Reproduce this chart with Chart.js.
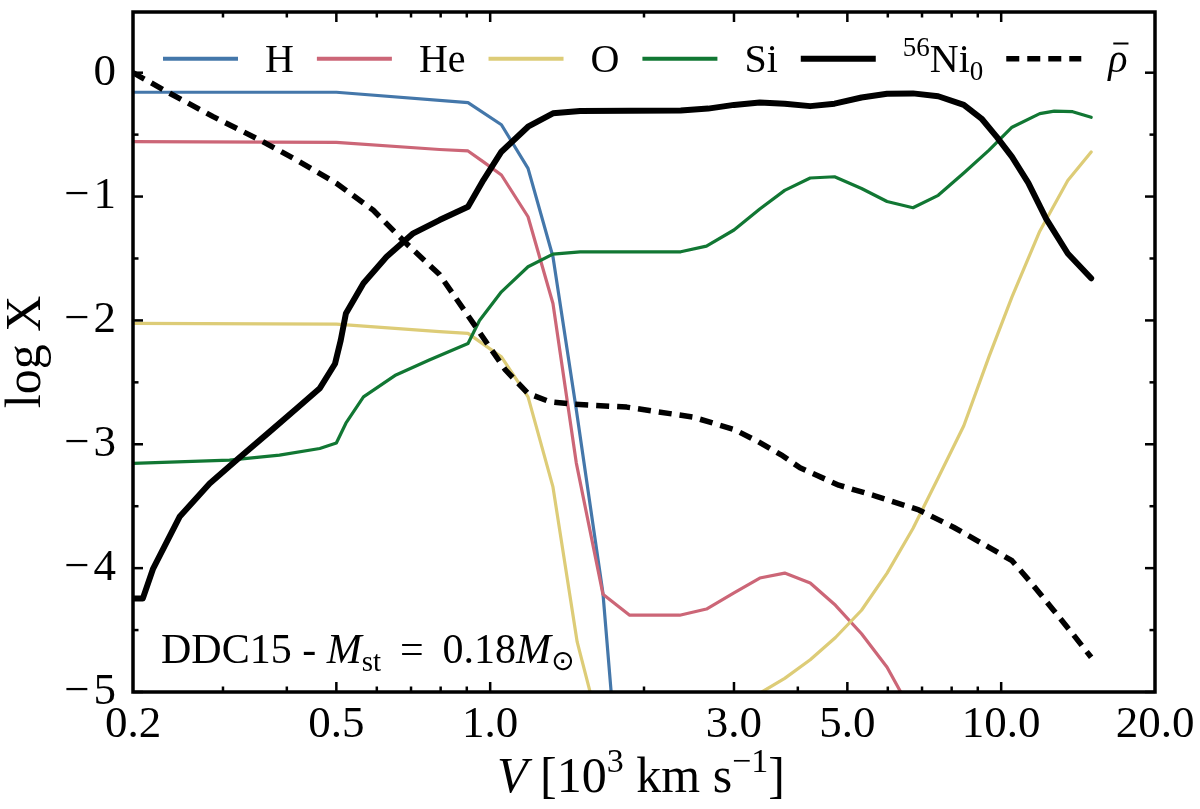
<!DOCTYPE html>
<html>
<head>
<meta charset="utf-8">
<script src="https://cdn.jsdelivr.net/npm/chart.js@4.4.0/dist/chart.umd.min.js"></script>
<style>
  html, body { margin: 0; padding: 0; background: #fff; }
  #wrap { width: 1200px; height: 809px; position: relative; }
</style>
</head>
<body>
<div id="wrap"><canvas id="chart"></canvas></div>
<script>
// ====== DATA (velocity in 1e3 km/s, log mass fraction) ======
const vH = [0.2, 0.5, 0.905, 1.052, 1.186, 1.327, 1.474, 1.662, 1.875];
const logH = [-0.158, -0.158, -0.242, -0.42, -0.772, -1.486, -2.72, -4.2, -6.8];

const vHe = [0.2, 0.5, 0.796, 0.905, 0.97, 1.052, 1.186, 1.327, 1.474, 1.662, 1.875, 2.349, 2.65, 3.0, 3.37, 3.77, 4.23, 4.74, 5.33, 5.98, 6.72];
const logHe = [-0.557, -0.563, -0.62, -0.632, -0.72, -0.826, -1.163, -1.863, -3.15, -4.21, -4.38, -4.38, -4.33, -4.2, -4.08, -4.04, -4.12, -4.3, -4.53, -4.8, -5.18];

const vO = [0.2, 0.5, 0.796, 0.905, 1.052, 1.186, 1.327, 1.48, 1.662, 3.0, 3.37, 3.77, 4.23, 4.74, 5.33, 5.98, 6.72, 7.53, 8.45, 9.47, 10.5, 11.9, 13.5, 15.0];
const logO = [-2.024, -2.03, -2.09, -2.105, -2.294, -2.617, -3.344, -4.596, -5.4, -5.13, -5.01, -4.89, -4.74, -4.56, -4.34, -4.04, -3.68, -3.27, -2.85, -2.29, -1.81, -1.28, -0.87, -0.64];

const vSi = [0.2, 0.309, 0.387, 0.464, 0.5, 0.522, 0.565, 0.654, 0.76, 0.905, 0.953, 1.052, 1.186, 1.327, 1.5, 2.36, 2.65, 3.0, 3.37, 3.77, 4.23, 4.72, 5.33, 5.98, 6.72, 7.53, 8.45, 9.47, 10.5, 11.9, 12.7, 13.8, 15.0];
const logSi = [-3.155, -3.128, -3.088, -3.034, -2.99, -2.83, -2.617, -2.44, -2.32, -2.186, -2.0, -1.769, -1.567, -1.465, -1.446, -1.446, -1.4, -1.27, -1.1, -0.95, -0.85, -0.84, -0.935, -1.04, -1.09, -0.99, -0.81, -0.625, -0.44, -0.33, -0.31, -0.315, -0.36];

const vNi = [0.2, 0.209, 0.219, 0.2467, 0.2825, 0.3186, 0.37, 0.418, 0.4636, 0.497, 0.51, 0.522, 0.565, 0.627, 0.707, 0.796, 0.905, 0.97, 1.052, 1.186, 1.327, 1.5, 2.36, 2.67, 3.0, 3.37, 3.77, 4.23, 4.72, 5.33, 5.98, 6.72, 7.53, 8.45, 9.15, 9.81, 10.5, 11.3, 12.25, 13.5, 15.0];
const logNi = [-4.246, -4.246, -4.003, -3.586, -3.317, -3.128, -2.9, -2.711, -2.55, -2.35, -2.16, -1.944, -1.7, -1.486, -1.297, -1.19, -1.082, -0.867, -0.638, -0.436, -0.328, -0.309, -0.306, -0.29, -0.26, -0.24, -0.25, -0.27, -0.25, -0.2, -0.17, -0.167, -0.19, -0.26, -0.37, -0.52, -0.68, -0.89, -1.18, -1.46, -1.66];

const vRho = [0.2, 0.236, 0.287, 0.349, 0.418, 0.5, 0.59, 0.685, 0.796, 0.927, 1.071, 1.186, 1.31, 1.45, 1.85, 2.49, 3.0, 3.35, 3.71, 4.04, 4.81, 5.7, 6.9, 8.07, 9.45, 10.5, 11.4, 12.66, 13.8, 15.0];
const logRho = [0.0, -0.166, -0.355, -0.53, -0.705, -0.893, -1.109, -1.378, -1.63, -2.024, -2.4, -2.59, -2.657, -2.676, -2.7, -2.78, -2.88, -2.98, -3.085, -3.19, -3.33, -3.42, -3.53, -3.67, -3.83, -3.94, -4.11, -4.34, -4.53, -4.72];

// ====== TICKS ======
const xLabelTicks = [0.2, 0.5, 1, 3, 5, 10, 20];
const xMajor = [0.5, 1, 3, 5, 10];
const xMinor = [0.3, 0.4, 0.6, 0.7, 0.8, 0.9, 2, 4, 6, 7, 8, 9];
const yLabelTicks = [-5, -4, -3, -2, -1, 0];
const yMinor = [-4.5, -3.5, -2.5, -1.5, -0.5];

const SERIF = '"Liberation Serif", "DejaVu Serif", serif';
const f = (size, style) => (style ? style + ' ' : '') + size + 'px ' + SERIF;

const pts = (xs, ys) => xs.map((x, i) => ({ x, y: ys[i] }));

function line(ctx, x1, y1, x2, y2) {
  ctx.beginPath(); ctx.moveTo(x1, y1); ctx.lineTo(x2, y2); ctx.stroke();
}

// draw a run of text pieces: [text, font, dy]
function drawRich(ctx, parts, x, y, align) {
  let w = 0;
  parts.forEach(p => { ctx.font = p[1]; w += ctx.measureText(p[0]).width; });
  let cx = align === 'center' ? x - w / 2 : x;
  parts.forEach(p => {
    ctx.font = p[1];
    ctx.fillText(p[0], cx, y + (p[2] || 0));
    cx += ctx.measureText(p[0]).width;
  });
  return w;
}

const legendText = [
  [['H', f(40)]],
  [['He', f(40)]],
  [['O', f(40)]],
  [['Si', f(40)]],
  [['56', f(27), -16], ['Ni', f(40)], ['0', f(27), 8]],
  [['\u03C1', f(40, 'italic')]]
];

const decor = {
  id: 'decor',
  afterDraw(chart) {
    const ctx = chart.ctx, a = chart.chartArea;
    const xs = chart.scales.x, ys = chart.scales.y;
    ctx.save();
    ctx.strokeStyle = '#000';
    ctx.fillStyle = '#000';
    ctx.lineCap = 'butt';

    // inward ticks on all four sides
    ctx.lineWidth = 2.5;
    xMajor.forEach(v => { const p = xs.getPixelForValue(v); line(ctx, p, a.bottom, p, a.bottom - 10); line(ctx, p, a.top, p, a.top + 10); });
    xMinor.forEach(v => { const p = xs.getPixelForValue(v); line(ctx, p, a.bottom, p, a.bottom - 5.5); line(ctx, p, a.top, p, a.top + 5.5); });
    yLabelTicks.forEach(v => { const p = ys.getPixelForValue(v); line(ctx, a.left, p, a.left + 10, p); line(ctx, a.right, p, a.right - 10, p); });
    yMinor.forEach(v => { const p = ys.getPixelForValue(v); line(ctx, a.left, p, a.left + 5.5, p); line(ctx, a.right, p, a.right - 5.5, p); });

    // frame
    ctx.lineWidth = 3.5;
    ctx.strokeRect(a.left, a.top, a.right - a.left, a.bottom - a.top);

    // legend inside the top of the plot
    ctx.textBaseline = 'alphabetic';
    ctx.textAlign = 'left';
    let lx = a.left + 30;
    const ly = 58.7, ty = 71.5;
    chart.data.datasets.forEach((ds, i) => {
      ctx.strokeStyle = ds.borderColor;
      ctx.lineWidth = ds.borderWidth === 3.2 ? 4 : ds.borderWidth;
      ctx.setLineDash(ds.borderDash || []);
      line(ctx, lx, ly, lx + 75, ly);
      ctx.setLineDash([]);
      const tx = lx + 75 + 27;
      const w = drawRich(ctx, legendText[i], tx, ty);
      if (i === 5) {
        ctx.strokeStyle = '#000'; ctx.lineWidth = 2;
        line(ctx, tx + 5, ty - 28, tx + w + 1, ty - 28);
      }
      lx = tx + w + 23;
    });

    // model annotation
    drawRich(ctx, [
      ['DDC15 - ', f(42)], ['M', f(42, 'italic')], ['st', f(29), 8],
      ['\u2009 = \u20090.18', f(42)], ['M', f(42, 'italic')], ['\u2299', '28px "DejaVu Sans", sans-serif', 7]
    ], a.left + 28, 662.5);

    // x-axis title
    drawRich(ctx, [
      ['V', f(50, 'italic')], [' [10', f(50)], ['3', f(34), -20], [' km s', f(50)],
      ['\u22121', f(34), -20], [']', f(50)]
    ], (a.left + a.right) / 2 - 3, 792, 'center');

    // y-axis title
    ctx.translate(40, (a.top + a.bottom) / 2);
    ctx.rotate(-Math.PI / 2);
    drawRich(ctx, [['log X', f(50)]], 0, 0, 'center');
    ctx.restore();
  }
};

new Chart(document.getElementById('chart'), {
  type: 'line',
  data: {
    datasets: [
      { label: 'H', data: pts(vH, logH), borderColor: '#4477AA', borderWidth: 3.2, order: 6 },
      { label: 'He', data: pts(vHe, logHe), borderColor: '#CC6677', borderWidth: 3.2, order: 5 },
      { label: 'O', data: pts(vO, logO), borderColor: '#DDCC77', borderWidth: 3.2, order: 4 },
      { label: 'Si', data: pts(vSi, logSi), borderColor: '#117733', borderWidth: 3.2, order: 3 },
      { label: '56Ni0', data: pts(vNi, logNi), borderColor: '#000000', borderWidth: 6, order: 2 },
      { label: 'rho', data: pts(vRho, logRho), borderColor: '#000000', borderWidth: 5.5, borderDash: [13, 8], borderCapStyle: 'butt', order: 1 }
    ]
  },
  options: {
    responsive: true,
    maintainAspectRatio: false,
    animation: false,
    layout: { padding: { left: 0, right: 45, top: 12, bottom: 0 } },
    elements: {
      point: { radius: 0 },
      line: { tension: 0, fill: false, borderJoinStyle: 'round', borderCapStyle: 'round' }
    },
    plugins: { legend: { display: false }, tooltip: { enabled: false } },
    scales: {
      x: {
        type: 'logarithmic',
        min: 0.2,
        max: 20,
        grid: { display: false },
        border: { display: false },
        afterBuildTicks: s => { s.ticks = xLabelTicks.map(v => ({ value: v })); },
        afterFit: s => { s.height = 117; s.paddingLeft = 0; s.paddingRight = 0; },
        ticks: {
          autoSkip: false,
          maxRotation: 0,
          padding: 3,
          color: '#000',
          font: { family: SERIF, size: 45, lineHeight: 1 },
          callback: v => Number(v).toFixed(1)
        }
      },
      y: {
        type: 'linear',
        min: -5,
        max: 0.49,
        grid: { display: false },
        border: { display: false },
        afterBuildTicks: s => { s.ticks = yLabelTicks.map(v => ({ value: v })); },
        afterFit: s => { s.width = 133; s.paddingTop = 0; s.paddingBottom = 0; },
        ticks: {
          padding: 9,
          color: '#000',
          font: { family: SERIF, size: 45, lineHeight: 1 },
          callback: v => v === 0 ? '0' : '\u2212\u200A' + Math.abs(v)
        }
      }
    }
  },
  plugins: [decor]
});
</script>
</body>
</html>
